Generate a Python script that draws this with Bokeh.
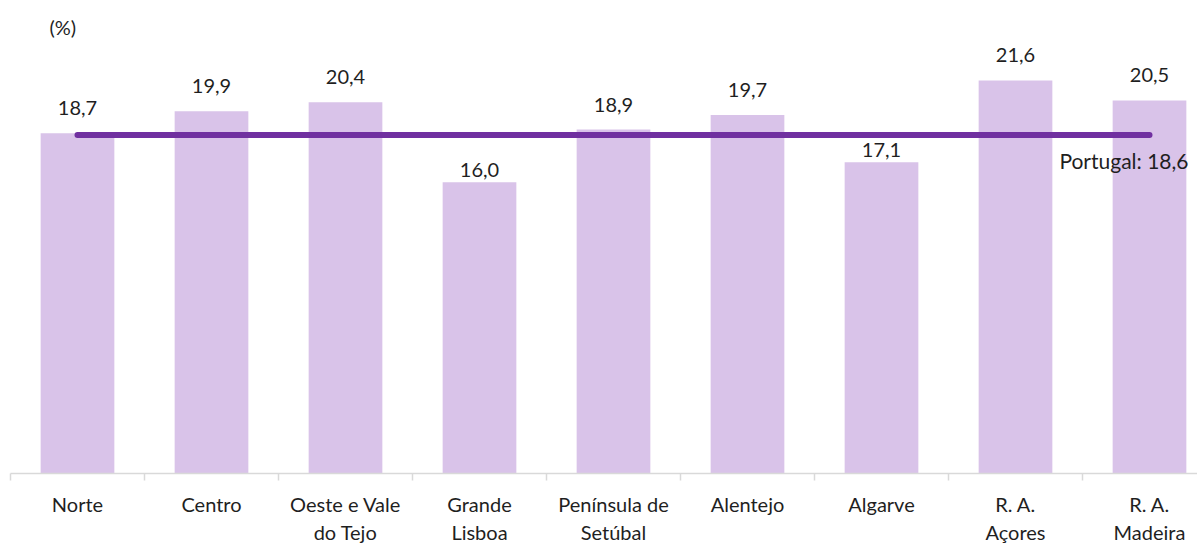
from bokeh.plotting import figure
from bokeh.models import Range1d, FixedTicker, ColumnDataSource
from bokeh.core.properties import value
from bokeh.embed import file_html
from bokeh.resources import INLINE

# ---- data ----
categories = ["Norte", "Centro", "Oeste e Vale do Tejo", "Grande Lisboa",
              "Península de Setúbal", "Alentejo", "Algarve", "R. A. Açores", "R. A. Madeira"]
tick_labels = ["Norte", "Centro", "Oeste e Vale\ndo Tejo", "Grande\nLisboa",
               "Península de\nSetúbal", "Alentejo", "Algarve", "R. A.\nAçores", "R. A.\nMadeira"]
values = [18.7, 19.9, 20.4, 16.0, 18.9, 19.7, 17.1, 21.6, 20.5]
portugal_value = 18.6
portugal_label = "Portugal: 18,6"
unit_label = "(%)"

FONT = "Lato"
TEXT_COLOR = "#1f1f1f"
BAR_COLOR = "#D9C3E9"
LINE_COLOR = "#7030A0"

n = len(categories)
xs = [i + 0.5 for i in range(n)]
value_labels = [f"{v:.1f}".replace(".", ",") for v in values]
# labels of bars below the national line sit closer to the bar (keeps them under the line)
label_offsets = [-25 if v > portugal_value else -12 for v in values]

src = ColumnDataSource(dict(x=xs, top=values, label=value_labels, yoff=label_offsets))

FRAME_W = 1187
FRAME_H = 433
PX_PER_CAT = 134
PX_PER_UNIT = 18.2

p = figure(frame_width=FRAME_W, frame_height=FRAME_H,
           x_range=Range1d(0, FRAME_W / PX_PER_CAT),
           y_range=Range1d(0, FRAME_H / PX_PER_UNIT),
           output_backend="svg", toolbar_location=None,
           title=unit_label,
           min_border_left=10, min_border_right=0, min_border_top=40, min_border_bottom=0)

p.title.text_font = FONT
p.title.text_font_size = "20px"
p.title.text_font_style = "normal"
p.title.text_color = TEXT_COLOR
p.title.align = "left"
p.title.offset = 39
p.title.standoff = 4

p.vbar(x="x", top="top", width=0.55, bottom=0, source=src,
       fill_color=BAR_COLOR, line_color=None)

p.text(x="x", y="top", text="label", source=src,
       text_align="center", text_baseline="alphabetic", y_offset="yoff",
       text_font=value(FONT), text_font_size="20px", text_color=TEXT_COLOR)

p.line(x=[xs[0], xs[-1]], y=[portugal_value, portugal_value],
       line_color=LINE_COLOR, line_width=6, line_cap="round")

p.text(x=[xs[-1]], y=[portugal_value], text=[portugal_label],
       text_align="right", text_baseline="alphabetic", x_offset=39, y_offset=26,
       text_font=value(FONT), text_font_size="21px", text_color=TEXT_COLOR)

p.yaxis.visible = False
p.grid.visible = False
p.outline_line_color = None

ax = p.xaxis[0]
ax.ticker = FixedTicker(ticks=xs, minor_ticks=list(range(n + 1)))
ax.major_label_overrides = {x: lab for x, lab in zip(xs, tick_labels)}
ax.major_tick_line_color = None
ax.major_tick_in = 0
ax.major_tick_out = 0
ax.minor_tick_line_color = "#D9D9D9"
ax.minor_tick_line_width = 1.5
ax.minor_tick_in = 0
ax.minor_tick_out = 7
ax.axis_line_color = "#D9D9D9"
ax.axis_line_width = 1.5
ax.major_label_standoff = 11
ax.major_label_text_font = FONT
ax.major_label_text_font_size = "20px"
ax.major_label_text_color = TEXT_COLOR

open("out.html", "w").write(file_html(p, INLINE))
